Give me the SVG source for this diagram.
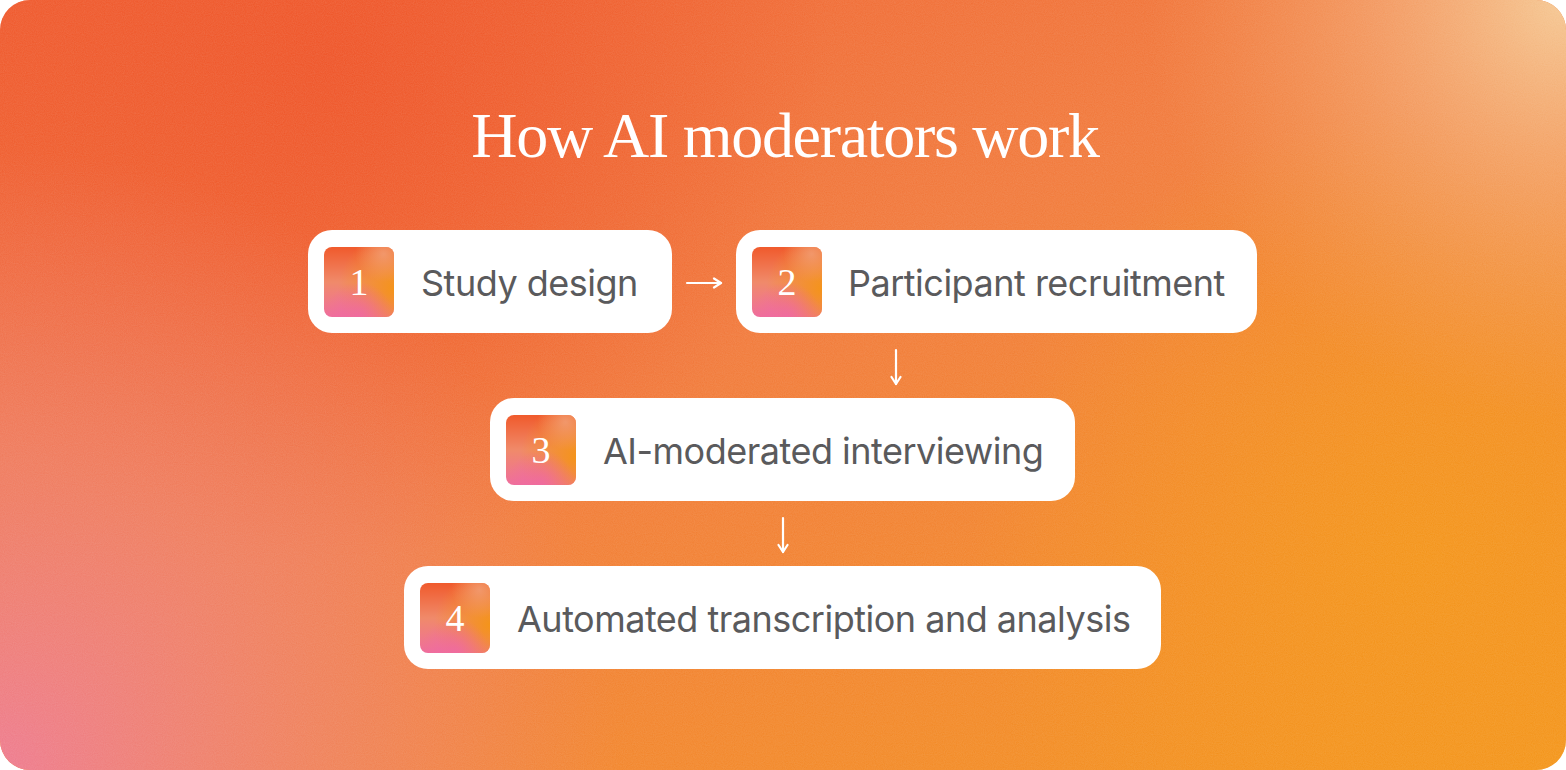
<svg xmlns="http://www.w3.org/2000/svg" width="1566" height="770" viewBox="0 0 1566 770">
<style>
.card{fill:#ffffff}
.lbl{font-family:Inter,"Noto Sans","Liberation Sans",sans-serif;font-size:36px;fill:#5a5a5c;letter-spacing:-0.5px}
.num{font-family:"Liberation Serif","DejaVu Serif",serif;font-size:38px;fill:#ffffff;text-anchor:middle}
.title{font-family:"Liberation Serif","DejaVu Serif",serif;font-size:64px;fill:#ffffff;text-anchor:middle;letter-spacing:-1.3px}
.conn{stroke:#ffffff;stroke-width:2.2;fill:none;stroke-linecap:round}
</style>
<defs>
<linearGradient id="bgBase" x1="0" y1="0" x2="1" y2="1">
<stop offset="0" stop-color="#ef5a2d"/>
<stop offset="0.45" stop-color="#f1793a"/>
<stop offset="1" stop-color="#f39418"/>
</linearGradient>
<radialGradient id="bgPink" cx="0" cy="770" r="620" gradientUnits="userSpaceOnUse">
<stop offset="0" stop-color="#ee7a8e" stop-opacity="1"/>
<stop offset="0.5" stop-color="#ee8276" stop-opacity="0.6"/>
<stop offset="1" stop-color="#ee8276" stop-opacity="0"/>
</radialGradient>
<radialGradient id="bgPeach" cx="1566" cy="0" r="420" gradientUnits="userSpaceOnUse">
<stop offset="0" stop-color="#f5c893" stop-opacity="1"/>
<stop offset="0.45" stop-color="#f4ad78" stop-opacity="0.6"/>
<stop offset="1" stop-color="#f29a5a" stop-opacity="0"/>
</radialGradient>
<radialGradient id="bgRed" cx="330" cy="60" r="500" gradientUnits="userSpaceOnUse">
<stop offset="0" stop-color="#ee5226" stop-opacity="0.9"/>
<stop offset="1" stop-color="#ee5226" stop-opacity="0"/>
</radialGradient>
<radialGradient id="bgOrange" cx="1420" cy="560" r="450" gradientUnits="userSpaceOnUse">
<stop offset="0" stop-color="#f49517" stop-opacity="0.9"/>
<stop offset="1" stop-color="#f49517" stop-opacity="0"/>
</radialGradient>
<linearGradient id="bdBase" x1="0" y1="0" x2="0" y2="1">
<stop offset="0" stop-color="#f05a2c"/>
<stop offset="0.5" stop-color="#f08a6a"/>
<stop offset="1" stop-color="#ef6e9c"/>
</linearGradient>
<radialGradient id="bdOrange" cx="1" cy="0.6" r="0.8">
<stop offset="0" stop-color="#f4941a" stop-opacity="1"/>
<stop offset="0.5" stop-color="#f4941a" stop-opacity="0.5"/>
<stop offset="1" stop-color="#f4941a" stop-opacity="0"/>
</radialGradient>
<radialGradient id="bdPeach" cx="0.85" cy="0.1" r="0.4">
<stop offset="0" stop-color="#f2a07a" stop-opacity="0.8"/>
<stop offset="1" stop-color="#f2a07a" stop-opacity="0"/>
</radialGradient>
<radialGradient id="bdPinkB" cx="0.5" cy="1" r="0.5">
<stop offset="0" stop-color="#ef6aa2" stop-opacity="0.9"/>
<stop offset="1" stop-color="#ef6aa2" stop-opacity="0"/>
</radialGradient>
<filter id="grain" x="0" y="0" width="100%" height="100%">
<feTurbulence type="fractalNoise" baseFrequency="0.9" numOctaves="2" seed="3" result="n"/>
<feColorMatrix type="matrix" values="0 0 0 0 1  0 0 0 0 1  0 0 0 0 1  0 0 0 0.12 0" in="n" result="w"/>
<feComposite in="w" in2="SourceGraphic" operator="in"/>
</filter>
<marker id="head" viewBox="0 0 12 12" refX="10" refY="6" markerWidth="12" markerHeight="12" markerUnits="userSpaceOnUse" orient="auto">
<polyline points="3,1.5 10,6 3,10.5" fill="none" stroke="#ffffff" stroke-width="2.2" stroke-linecap="round" stroke-linejoin="round"/>
</marker>
<symbol id="badge" viewBox="0 0 70 70">
<rect width="70" height="70" rx="8" fill="url(#bdBase)"/>
<rect width="70" height="70" rx="8" fill="url(#bdOrange)"/>
<rect width="70" height="70" rx="8" fill="url(#bdPeach)"/>
<rect width="70" height="70" rx="8" fill="url(#bdPinkB)"/>
</symbol>
</defs>

<g id="background">
<rect x="0" y="0" width="1566" height="770" rx="30" fill="url(#bgBase)"/>
<rect x="0" y="0" width="1566" height="770" rx="30" fill="url(#bgRed)"/>
<rect x="0" y="0" width="1566" height="770" rx="30" fill="url(#bgOrange)"/>
<rect x="0" y="0" width="1566" height="770" rx="30" fill="url(#bgPink)"/>
<rect x="0" y="0" width="1566" height="770" rx="30" fill="url(#bgPeach)"/>
<rect x="0" y="0" width="1566" height="770" rx="30" fill="#ffffff" filter="url(#grain)"/>
</g>

<text id="title" class="title" x="785" y="157">How AI moderators work</text>

<g id="connectors">
<line class="conn" x1="687" y1="283" x2="721" y2="283" marker-end="url(#head)"/>
<line class="conn" x1="896" y1="350" x2="896" y2="384" marker-end="url(#head)"/>
<line class="conn" x1="783" y1="518" x2="783" y2="552" marker-end="url(#head)"/>
</g>

<g id="node1">
<rect class="card" x="308" y="230" width="364" height="103" rx="24"/>
<use href="#badge" x="324" y="247" width="70" height="70"/>
<text class="num" x="359" y="295">1</text>
<text class="lbl" x="421" y="296">Study design</text>
</g>

<g id="node2">
<rect class="card" x="736" y="230" width="521" height="103" rx="24"/>
<use href="#badge" x="752" y="247" width="70" height="70"/>
<text class="num" x="787" y="295">2</text>
<text class="lbl" x="848" y="296">Participant recruitment</text>
</g>

<g id="node3">
<rect class="card" x="490" y="398" width="585" height="103" rx="24"/>
<use href="#badge" x="506" y="415" width="70" height="70"/>
<text class="num" x="541" y="463">3</text>
<text class="lbl" x="603" y="464">AI-moderated interviewing</text>
</g>

<g id="node4">
<rect class="card" x="404" y="566" width="757" height="103" rx="24"/>
<use href="#badge" x="420" y="583" width="70" height="70"/>
<text class="num" x="455" y="631">4</text>
<text class="lbl" x="517" y="632">Automated transcription and analysis</text>
</g>
</svg>
